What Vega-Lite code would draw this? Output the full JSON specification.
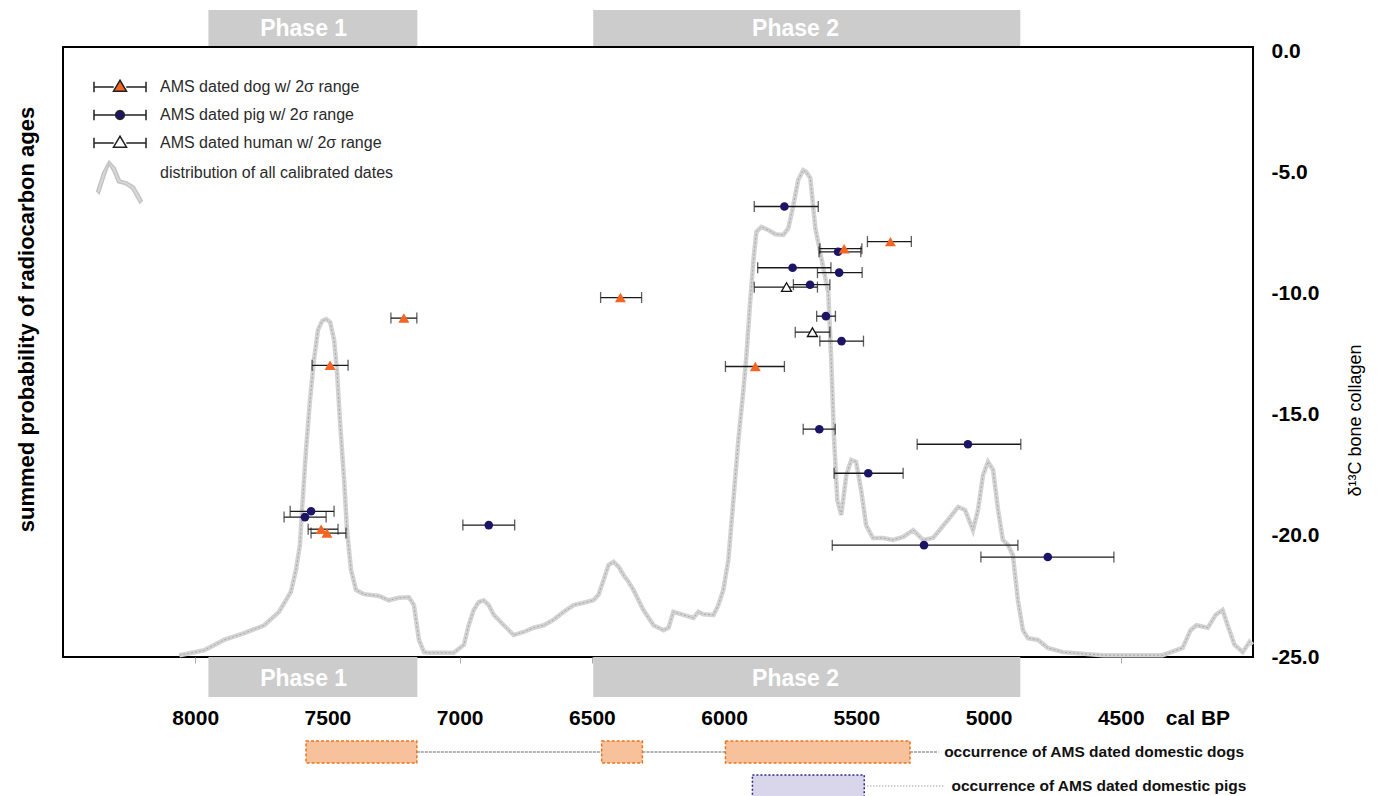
{
  "$schema": "https://vega.github.io/schema/vega-lite/v6.json",
  "padding": {"left": 13, "top": 10, "right": 5, "bottom": 0},
  "background": "white",
  "spacing": 0,
  "bounds": "flush",
  "config": {"font": "Liberation Sans", "view": {"stroke": null}},
  "datasets": {
    "curve": [
      {"year":8060,"prob":0.3},{"year":7966,"prob":1.1},{"year":7891,"prob":2.8},{"year":7815,"prob":3.9},{"year":7739,"prob":5.2},{"year":7683,"prob":7.4},{"year":7638,"prob":10.7},{"year":7619,"prob":14.3},{"year":7604,"prob":18.4},{"year":7596,"prob":24.1},{"year":7581,"prob":33.9},{"year":7566,"prob":42.1},{"year":7551,"prob":48.7},{"year":7536,"prob":53.6},{"year":7520,"prob":55.1},{"year":7505,"prob":55.4},{"year":7490,"prob":54.9},{"year":7475,"prob":52.0},{"year":7464,"prob":47.0},{"year":7453,"prob":38.9},{"year":7437,"prob":29.0},{"year":7426,"prob":20.8},{"year":7411,"prob":14.3},{"year":7392,"prob":11.0},{"year":7362,"prob":10.3},{"year":7305,"prob":10.0},{"year":7268,"prob":9.3},{"year":7230,"prob":9.7},{"year":7192,"prob":9.8},{"year":7173,"prob":8.5},{"year":7154,"prob":2.8},{"year":7135,"prob":0.8},{"year":7117,"prob":0.7},{"year":7022,"prob":0.7},{"year":6984,"prob":2.0},{"year":6966,"prob":5.2},{"year":6947,"prob":7.7},{"year":6928,"prob":9.0},{"year":6909,"prob":9.3},{"year":6890,"prob":8.5},{"year":6871,"prob":6.9},{"year":6833,"prob":5.2},{"year":6796,"prob":3.6},{"year":6758,"prob":4.1},{"year":6720,"prob":4.8},{"year":6682,"prob":5.2},{"year":6645,"prob":6.1},{"year":6607,"prob":7.4},{"year":6569,"prob":8.5},{"year":6531,"prob":8.9},{"year":6494,"prob":9.3},{"year":6475,"prob":10.2},{"year":6456,"prob":12.6},{"year":6437,"prob":15.1},{"year":6418,"prob":15.6},{"year":6399,"prob":14.8},{"year":6380,"prob":13.4},{"year":6361,"prob":12.3},{"year":6343,"prob":11.0},{"year":6305,"prob":7.7},{"year":6267,"prob":5.2},{"year":6229,"prob":4.4},{"year":6210,"prob":4.8},{"year":6192,"prob":7.4},{"year":6154,"prob":6.9},{"year":6116,"prob":6.4},{"year":6097,"prob":7.4},{"year":6078,"prob":7.0},{"year":6040,"prob":6.9},{"year":6022,"prob":8.5},{"year":6003,"prob":11.0},{"year":5984,"prob":15.9},{"year":5965,"prob":25.7},{"year":5946,"prob":35.6},{"year":5927,"prob":43.8},{"year":5916,"prob":49.2},{"year":5901,"prob":58.5},{"year":5889,"prob":65.1},{"year":5878,"prob":69.7},{"year":5859,"prob":70.5},{"year":5833,"prob":70.0},{"year":5806,"prob":69.3},{"year":5776,"prob":69.2},{"year":5757,"prob":70.3},{"year":5738,"prob":74.1},{"year":5720,"prob":78.2},{"year":5701,"prob":79.8},{"year":5689,"prob":79.5},{"year":5674,"prob":78.5},{"year":5655,"prob":70.3},{"year":5636,"prob":66.2},{"year":5606,"prob":59.7},{"year":5595,"prob":48.7},{"year":5584,"prob":35.6},{"year":5572,"prob":25.7},{"year":5557,"prob":23.3},{"year":5538,"prob":29.8},{"year":5519,"prob":32.3},{"year":5501,"prob":32.0},{"year":5482,"prob":27.4},{"year":5463,"prob":21.6},{"year":5437,"prob":19.5},{"year":5399,"prob":19.5},{"year":5361,"prob":19.2},{"year":5323,"prob":19.7},{"year":5285,"prob":20.8},{"year":5248,"prob":19.2},{"year":5210,"prob":19.5},{"year":5153,"prob":22.5},{"year":5115,"prob":24.6},{"year":5089,"prob":24.1},{"year":5059,"prob":20.8},{"year":5040,"prob":24.1},{"year":5021,"prob":29.8},{"year":5002,"prob":32.0},{"year":4983,"prob":30.7},{"year":4964,"prob":24.1},{"year":4946,"prob":19.2},{"year":4927,"prob":18.4},{"year":4908,"prob":16.7},{"year":4889,"prob":9.3},{"year":4870,"prob":4.4},{"year":4851,"prob":3.1},{"year":4813,"prob":2.8},{"year":4776,"prob":1.5},{"year":4719,"prob":0.8},{"year":4568,"prob":0.3},{"year":4342,"prob":0.3},{"year":4266,"prob":1.5},{"year":4236,"prob":4.4},{"year":4214,"prob":5.2},{"year":4171,"prob":4.8},{"year":4141,"prob":6.9},{"year":4115,"prob":7.7},{"year":4096,"prob":5.2},{"year":4070,"prob":2.0},{"year":4039,"prob":0.8},{"year":4013,"prob":2.5},{"year":4002,"prob":2.0}
    ],
    "points": [
      {"taxon":"dog","year":7211,"lo":7260,"hi":7162,"d13C":-11.0},
      {"taxon":"dog","year":7490,"lo":7558,"hi":7422,"d13C":-12.95},
      {"taxon":"dog","year":7524,"lo":7573,"hi":7460,"d13C":-19.72},
      {"taxon":"dog","year":7502,"lo":7562,"hi":7430,"d13C":-19.88},
      {"taxon":"dog","year":6392,"lo":6467,"hi":6312,"d13C":-10.15},
      {"taxon":"dog","year":5882,"lo":5995,"hi":5772,"d13C":-13.0},
      {"taxon":"dog","year":5371,"lo":5458,"hi":5292,"d13C":-7.84},
      {"taxon":"dog","year":5546,"lo":5638,"hi":5479,"d13C":-8.13},
      {"taxon":"pig","year":7562,"lo":7641,"hi":7475,"d13C":-18.98},
      {"taxon":"pig","year":7585,"lo":7664,"hi":7505,"d13C":-19.22},
      {"taxon":"pig","year":6890,"lo":6988,"hi":6792,"d13C":-19.55},
      {"taxon":"pig","year":5772,"lo":5886,"hi":5644,"d13C":-6.39},
      {"taxon":"pig","year":5569,"lo":5641,"hi":5483,"d13C":-8.26},
      {"taxon":"pig","year":5741,"lo":5873,"hi":5596,"d13C":-8.92},
      {"taxon":"pig","year":5565,"lo":5647,"hi":5478,"d13C":-9.12},
      {"taxon":"pig","year":5675,"lo":5738,"hi":5600,"d13C":-9.62},
      {"taxon":"pig","year":5615,"lo":5650,"hi":5579,"d13C":-10.92},
      {"taxon":"pig","year":5556,"lo":5638,"hi":5473,"d13C":-11.95},
      {"taxon":"pig","year":5640,"lo":5701,"hi":5580,"d13C":-15.59},
      {"taxon":"pig","year":5078,"lo":5270,"hi":4878,"d13C":-16.21},
      {"taxon":"pig","year":5455,"lo":5584,"hi":5323,"d13C":-17.41},
      {"taxon":"pig","year":5244,"lo":5591,"hi":4889,"d13C":-20.38},
      {"taxon":"pig","year":4776,"lo":5029,"hi":4526,"d13C":-20.87},
      {"taxon":"human","year":5764,"lo":5886,"hi":5647,"d13C":-9.72},
      {"taxon":"human","year":5666,"lo":5731,"hi":5600,"d13C":-11.58}
    ],
    "phases": [
      {"phase":"Phase 1","start":7950,"end":7160,"mid":7590},
      {"phase":"Phase 2","start":6495,"end":4880,"mid":5730}
    ],
    "occ": [
      {"row":"dogs","start":7581,"end":7162},
      {"row":"dogs","start":6463,"end":6309},
      {"row":"dogs","start":5995,"end":5297},
      {"row":"pigs","start":5893,"end":5470}
    ],
    "links": [
      {"row":"dogs","from":7162,"to":6463},
      {"row":"dogs","from":6309,"to":5995},
      {"row":"dogs","from":5297,"to":5190},
      {"row":"pigs","from":5470,"to":5170}
    ],
    "occlabels": [
      {"row":"dogs","year":5168,"label":"occurrence of AMS dated domestic dogs"},
      {"row":"pigs","year":5140,"label":"occurrence of AMS dated domestic pigs"}
    ]
  },
  "vconcat": [
    {
      "width": 1190, "height": 37,
      "data": {"name": "phases"},
      "layer": [
        {"mark": {"type": "rect", "color": "#cccccc"},
         "encoding": {"x": {"field": "start", "type": "quantitative", "scale": {"domain": [8500, 4000], "nice": false, "zero": false}, "axis": null}, "x2": {"field": "end"}}},
        {"mark": {"type": "text", "color": "#ffffff", "font": "Liberation Sans", "fontSize": 23, "fontWeight": "bold", "baseline": "middle", "align": "center"},
         "encoding": {"x": {"field": "mid", "type": "quantitative", "scale": {"domain": [8500, 4000], "nice": false, "zero": false}, "axis": null}, "text": {"field": "phase"}}}
      ]
    },
    {
      "width": 1190, "height": 610,
      "view": {"stroke": "#000000", "strokeWidth": 2},
      "layer": [
        {"data": {"name": "curve"},
         "layer": [
           {"mark": {"type": "line", "stroke": "#d3d3d3", "strokeWidth": 4.5},
            "encoding": {
              "x": {"field": "year", "type": "quantitative", "scale": {"domain": [8500, 4000], "nice": false, "zero": false},
                    "axis": {"orient": "bottom", "values": [8000,7500,7000,6500,6000,5500,5000,4500], "labels": false, "ticks": true, "tickSize": 6, "tickColor": "#aaaaaa", "domain": false, "grid": false, "title": null}},
              "y": {"field": "prob", "type": "quantitative", "scale": {"domain": [0, 100], "nice": false, "zero": true},
                    "axis": {"orient": "left", "labels": false, "ticks": false, "domain": false, "grid": false, "title": "summed probability of radiocarbon ages", "titleFont": "Liberation Sans", "titleFontSize": 22, "titleFontWeight": "bold", "titleColor": "#000000", "titleAngle": 270, "titleX": -37, "titleY": 272, "titleAlign": "center", "titleBaseline": "middle"}}
            }},
           {"mark": {"type": "line", "stroke": "#a9a9a9", "strokeWidth": 1, "strokeDash": [2, 2]},
            "encoding": {
              "x": {"field": "year", "type": "quantitative", "scale": {"domain": [8500, 4000], "nice": false, "zero": false},
                    "axis": {"orient": "bottom", "values": [8000,7500,7000,6500,6000,5500,5000,4500], "labels": false, "ticks": true, "tickSize": 6, "tickColor": "#aaaaaa", "domain": false, "grid": false, "title": null}},
              "y": {"field": "prob", "type": "quantitative", "scale": {"domain": [0, 100], "nice": false, "zero": true},
                    "axis": {"orient": "left", "labels": false, "ticks": false, "domain": false, "grid": false, "title": "summed probability of radiocarbon ages", "titleFont": "Liberation Sans", "titleFontSize": 22, "titleFontWeight": "bold", "titleColor": "#000000", "titleAngle": 270, "titleX": -37, "titleY": 272, "titleAlign": "center", "titleBaseline": "middle"}}
            }}
         ]},
        {"data": {"name": "points"},
         "layer": [
           {"mark": {"type": "rule", "color": "#1a1a1a", "strokeWidth": 1.3},
            "encoding": {
              "x": {"field": "lo", "type": "quantitative", "scale": {"domain": [8500, 4000], "nice": false, "zero": false},
                    "axis": {"orient": "bottom", "values": [8000,7500,7000,6500,6000,5500,5000,4500], "labels": false, "ticks": true, "tickSize": 6, "tickColor": "#aaaaaa", "domain": false, "grid": false, "title": null}},
              "x2": {"field": "hi"},
              "y": {"field": "d13C", "type": "quantitative", "scale": {"domain": [-25, 0.2], "nice": false, "zero": false},
                    "axis": {"orient": "right", "values": [0,-5,-10,-15,-20,-25], "labelExpr": "replace(format(datum.value, '.1f'), '\u2212', '-')", "labelFont": "Liberation Sans", "labelFontSize": 21, "labelFontWeight": "bold", "labelColor": "#000000", "labelPadding": 18, "labelFlush": false, "labelOverlap": false, "labelBound": false, "ticks": false, "domain": false, "grid": false, "title": "δ¹³C bone collagen", "titleFont": "Liberation Sans", "titleFontSize": 18, "titleFontWeight": "normal", "titleColor": "#000000", "titleAngle": 270, "titleX": 102, "titleY": 373, "titleAlign": "center", "titleBaseline": "middle"}}
            }},
           {"mark": {"type": "tick", "orient": "vertical", "color": "#1a1a1a", "size": 11, "thickness": 1.3},
            "encoding": {
              "x": {"field": "lo", "type": "quantitative", "scale": {"domain": [8500, 4000], "nice": false, "zero": false},
                    "axis": {"orient": "bottom", "values": [8000,7500,7000,6500,6000,5500,5000,4500], "labels": false, "ticks": true, "tickSize": 6, "tickColor": "#aaaaaa", "domain": false, "grid": false, "title": null}},
              "y": {"field": "d13C", "type": "quantitative", "scale": {"domain": [-25, 0.2], "nice": false, "zero": false},
                    "axis": {"orient": "right", "values": [0,-5,-10,-15,-20,-25], "labelExpr": "replace(format(datum.value, '.1f'), '\u2212', '-')", "labelFont": "Liberation Sans", "labelFontSize": 21, "labelFontWeight": "bold", "labelColor": "#000000", "labelPadding": 18, "labelFlush": false, "labelOverlap": false, "labelBound": false, "ticks": false, "domain": false, "grid": false, "title": "δ¹³C bone collagen", "titleFont": "Liberation Sans", "titleFontSize": 18, "titleFontWeight": "normal", "titleColor": "#000000", "titleAngle": 270, "titleX": 102, "titleY": 373, "titleAlign": "center", "titleBaseline": "middle"}}
            }},
           {"mark": {"type": "tick", "orient": "vertical", "color": "#1a1a1a", "size": 11, "thickness": 1.3},
            "encoding": {
              "x": {"field": "hi", "type": "quantitative", "scale": {"domain": [8500, 4000], "nice": false, "zero": false},
                    "axis": {"orient": "bottom", "values": [8000,7500,7000,6500,6000,5500,5000,4500], "labels": false, "ticks": true, "tickSize": 6, "tickColor": "#aaaaaa", "domain": false, "grid": false, "title": null}},
              "y": {"field": "d13C", "type": "quantitative", "scale": {"domain": [-25, 0.2], "nice": false, "zero": false},
                    "axis": {"orient": "right", "values": [0,-5,-10,-15,-20,-25], "labelExpr": "replace(format(datum.value, '.1f'), '\u2212', '-')", "labelFont": "Liberation Sans", "labelFontSize": 21, "labelFontWeight": "bold", "labelColor": "#000000", "labelPadding": 18, "labelFlush": false, "labelOverlap": false, "labelBound": false, "ticks": false, "domain": false, "grid": false, "title": "δ¹³C bone collagen", "titleFont": "Liberation Sans", "titleFontSize": 18, "titleFontWeight": "normal", "titleColor": "#000000", "titleAngle": 270, "titleX": 102, "titleY": 373, "titleAlign": "center", "titleBaseline": "middle"}}
            }},
           {"transform": [{"filter": {"field": "taxon", "equal": "pig"}}],
            "mark": {"type": "point", "shape": "circle", "filled": true, "color": "#1c1566", "size": 75, "opacity": 1},
            "encoding": {
              "x": {"field": "year", "type": "quantitative", "scale": {"domain": [8500, 4000], "nice": false, "zero": false},
                    "axis": {"orient": "bottom", "values": [8000,7500,7000,6500,6000,5500,5000,4500], "labels": false, "ticks": true, "tickSize": 6, "tickColor": "#aaaaaa", "domain": false, "grid": false, "title": null}},
              "y": {"field": "d13C", "type": "quantitative", "scale": {"domain": [-25, 0.2], "nice": false, "zero": false},
                    "axis": {"orient": "right", "values": [0,-5,-10,-15,-20,-25], "labelExpr": "replace(format(datum.value, '.1f'), '\u2212', '-')", "labelFont": "Liberation Sans", "labelFontSize": 21, "labelFontWeight": "bold", "labelColor": "#000000", "labelPadding": 18, "labelFlush": false, "labelOverlap": false, "labelBound": false, "ticks": false, "domain": false, "grid": false, "title": "δ¹³C bone collagen", "titleFont": "Liberation Sans", "titleFontSize": 18, "titleFontWeight": "normal", "titleColor": "#000000", "titleAngle": 270, "titleX": 102, "titleY": 373, "titleAlign": "center", "titleBaseline": "middle"}}
            }},
           {"transform": [{"filter": {"field": "taxon", "equal": "human"}}],
            "mark": {"type": "point", "shape": "triangle-up", "filled": false, "fill": "#ffffff", "stroke": "#111111", "strokeWidth": 1.3, "size": 100, "opacity": 1},
            "encoding": {
              "x": {"field": "year", "type": "quantitative", "scale": {"domain": [8500, 4000], "nice": false, "zero": false},
                    "axis": {"orient": "bottom", "values": [8000,7500,7000,6500,6000,5500,5000,4500], "labels": false, "ticks": true, "tickSize": 6, "tickColor": "#aaaaaa", "domain": false, "grid": false, "title": null}},
              "y": {"field": "d13C", "type": "quantitative", "scale": {"domain": [-25, 0.2], "nice": false, "zero": false},
                    "axis": {"orient": "right", "values": [0,-5,-10,-15,-20,-25], "labelExpr": "replace(format(datum.value, '.1f'), '\u2212', '-')", "labelFont": "Liberation Sans", "labelFontSize": 21, "labelFontWeight": "bold", "labelColor": "#000000", "labelPadding": 18, "labelFlush": false, "labelOverlap": false, "labelBound": false, "ticks": false, "domain": false, "grid": false, "title": "δ¹³C bone collagen", "titleFont": "Liberation Sans", "titleFontSize": 18, "titleFontWeight": "normal", "titleColor": "#000000", "titleAngle": 270, "titleX": 102, "titleY": 373, "titleAlign": "center", "titleBaseline": "middle"}}
            }},
           {"transform": [{"filter": {"field": "taxon", "equal": "dog"}}],
            "mark": {"type": "point", "shape": "triangle-up", "filled": true, "color": "#f26522", "size": 120, "opacity": 1},
            "encoding": {
              "x": {"field": "year", "type": "quantitative", "scale": {"domain": [8500, 4000], "nice": false, "zero": false},
                    "axis": {"orient": "bottom", "values": [8000,7500,7000,6500,6000,5500,5000,4500], "labels": false, "ticks": true, "tickSize": 6, "tickColor": "#aaaaaa", "domain": false, "grid": false, "title": null}},
              "y": {"field": "d13C", "type": "quantitative", "scale": {"domain": [-25, 0.2], "nice": false, "zero": false},
                    "axis": {"orient": "right", "values": [0,-5,-10,-15,-20,-25], "labelExpr": "replace(format(datum.value, '.1f'), '\u2212', '-')", "labelFont": "Liberation Sans", "labelFontSize": 21, "labelFontWeight": "bold", "labelColor": "#000000", "labelPadding": 18, "labelFlush": false, "labelOverlap": false, "labelBound": false, "ticks": false, "domain": false, "grid": false, "title": "δ¹³C bone collagen", "titleFont": "Liberation Sans", "titleFontSize": 18, "titleFontWeight": "normal", "titleColor": "#000000", "titleAngle": 270, "titleX": 102, "titleY": 373, "titleAlign": "center", "titleBaseline": "middle"}}
            }},
           {"data": {"values": []},
            "mark": {"type": "point", "filled": true, "opacity": 1},
            "encoding": {
              "shape": {"field": "entry", "type": "nominal",
                        "scale": {"domain": ["AMS dated dog w/ 2σ range", "AMS dated pig w/ 2σ range", "AMS dated human w/ 2σ range", "distribution of all calibrated dates"],
                                  "range": ["M-5.2,0H-1.25M1.25,0H5.2M-5.2,-1.04V1.04M5.2,-1.04V1.04M0,-1.35L1.3,0.83L-1.3,0.83Z",
                                            "M0,-2M-5.2,0H-0.88M0.88,0H5.2M-5.2,-1.04V1.04M5.2,-1.04V1.04M0.88,0L0.77,0.44L0.44,0.77L0,0.88L-0.44,0.77L-0.77,0.44L-0.88,0L-0.77,-0.44L-0.44,-0.77L0,-0.88L0.44,-0.77L0.77,-0.44Z",
                                            "M0,-2M-5.2,0H-1.25M1.25,0H5.2M-5.2,-1.04V1.04M5.2,-1.04V1.04M0,-1.35L1.3,0.83L-1.3,0.83Z",
                                            "M-4.65,3.64L-3.45,-0.08L-2.2,-2.4L-0.95,-1.0L0.05,1.42L1.35,1.78L2.85,2.7L4.45,5.5L3.95,6.0L2.35,3.2L1.05,2.28L-0.45,1.92L-1.45,-0.5L-2.2,-1.7L-2.95,0.42L-4.15,4.14Z"]},
                        "legend": {"title": null, "orient": "none", "legendX": 49, "legendY": 69, "symbolSize": 100, "labelFont": "Liberation Sans", "labelFontSize": 16, "labelColor": "#2a2a2a", "labelOffset": 32, "labelLimit": 500, "rowPadding": 6, "padding": 0, "symbolOffset": 0}},
              "fill": {"field": "entry", "type": "nominal",
                       "scale": {"domain": ["AMS dated dog w/ 2σ range", "AMS dated pig w/ 2σ range", "AMS dated human w/ 2σ range", "distribution of all calibrated dates"],
                                 "range": ["#f26522", "#1c1566", "#ffffff", "#d9d9d9"]},
                       "legend": {"title": null, "orient": "none", "legendX": 49, "legendY": 69, "symbolSize": 100, "labelFont": "Liberation Sans", "labelFontSize": 16, "labelColor": "#2a2a2a", "labelOffset": 32, "labelLimit": 500, "rowPadding": 6, "padding": 0, "symbolOffset": 0}},
              "stroke": {"field": "entry", "type": "nominal",
                         "scale": {"domain": ["AMS dated dog w/ 2σ range", "AMS dated pig w/ 2σ range", "AMS dated human w/ 2σ range", "distribution of all calibrated dates"],
                                   "range": ["#222222", "#222222", "#222222", "#c4c4c4"]},
                         "legend": {"title": null, "orient": "none", "legendX": 49, "legendY": 69, "symbolSize": 100, "labelFont": "Liberation Sans", "labelFontSize": 16, "labelColor": "#2a2a2a", "labelOffset": 32, "labelLimit": 500, "rowPadding": 6, "padding": 0, "symbolOffset": 0}}
            }}
         ]}
      ],
      "resolve": {"scale": {"y": "independent"}}
    },
    {
      "width": 1190, "height": 40,
      "data": {"name": "phases"},
      "layer": [
        {"mark": {"type": "rect", "color": "#cccccc"},
         "encoding": {"x": {"field": "start", "type": "quantitative", "scale": {"domain": [8500, 4000], "nice": false, "zero": false},
                            "axis": {"orient": "bottom", "values": [8000,7500,7000,6500,6000,5500,5000,4500,4210], "labelExpr": "datum.value == 4210 ? 'cal BP' : format(datum.value, 'd')", "labelFont": "Liberation Sans", "labelFontSize": 21, "labelFontWeight": "bold", "labelColor": "#000000", "labelPadding": 10, "labelFlush": false, "labelOverlap": false, "labelBound": false, "ticks": false, "domain": false, "grid": false, "title": null}},
                      "x2": {"field": "end"}}},
        {"mark": {"type": "text", "color": "#ffffff", "font": "Liberation Sans", "fontSize": 23, "fontWeight": "bold", "baseline": "middle", "align": "center", "dy": 2},
         "encoding": {"x": {"field": "mid", "type": "quantitative", "scale": {"domain": [8500, 4000], "nice": false, "zero": false},
                            "axis": {"orient": "bottom", "values": [8000,7500,7000,6500,6000,5500,5000,4500,4210], "labelExpr": "datum.value == 4210 ? 'cal BP' : format(datum.value, 'd')", "labelFont": "Liberation Sans", "labelFontSize": 21, "labelFontWeight": "bold", "labelColor": "#000000", "labelPadding": 10, "labelFlush": false, "labelOverlap": false, "labelBound": false, "ticks": false, "domain": false, "grid": false, "title": null}},
                      "text": {"field": "phase"}}}
      ]
    },
    {
      "width": 1190, "height": 100,
      "layer": [
        {"data": {"name": "links"},
         "transform": [{"filter": {"field": "row", "equal": "dogs"}}],
         "mark": {"type": "rule", "color": "#9a9a9a", "strokeWidth": 1.5, "strokeDash": [3, 1]},
         "encoding": {"x": {"field": "from", "type": "quantitative", "scale": {"domain": [8500, 4000], "nice": false, "zero": false}, "axis": null},
                      "x2": {"field": "to"},
                      "y": {"field": "row", "type": "nominal", "scale": {"domain": ["dogs", "pigs"], "paddingInner": 0.353, "paddingOuter": 0.647, "align": 1}, "axis": null}}},
        {"data": {"name": "links"},
         "transform": [{"filter": {"field": "row", "equal": "pigs"}}],
         "mark": {"type": "rule", "color": "#a5a5a5", "strokeWidth": 1.3, "strokeDash": [1, 2]},
         "encoding": {"x": {"field": "from", "type": "quantitative", "scale": {"domain": [8500, 4000], "nice": false, "zero": false}, "axis": null},
                      "x2": {"field": "to"},
                      "y": {"field": "row", "type": "nominal", "scale": {"domain": ["dogs", "pigs"], "paddingInner": 0.353, "paddingOuter": 0.647, "align": 1}, "axis": null}}},
        {"data": {"name": "occ"},
         "transform": [{"filter": {"field": "row", "equal": "dogs"}}],
         "mark": {"type": "rect", "fill": "#f6c19b", "stroke": "#e8741f", "strokeWidth": 1.5, "strokeDash": [3, 2]},
         "encoding": {"x": {"field": "start", "type": "quantitative", "scale": {"domain": [8500, 4000], "nice": false, "zero": false}, "axis": null},
                      "x2": {"field": "end"},
                      "y": {"field": "row", "type": "nominal", "scale": {"domain": ["dogs", "pigs"], "paddingInner": 0.353, "paddingOuter": 0.647, "align": 1}, "axis": null}}},
        {"data": {"name": "occ"},
         "transform": [{"filter": {"field": "row", "equal": "pigs"}}],
         "mark": {"type": "rect", "fill": "#d9d6eb", "stroke": "#2e2a87", "strokeWidth": 1.5, "strokeDash": [2, 2]},
         "encoding": {"x": {"field": "start", "type": "quantitative", "scale": {"domain": [8500, 4000], "nice": false, "zero": false}, "axis": null},
                      "x2": {"field": "end"},
                      "y": {"field": "row", "type": "nominal", "scale": {"domain": ["dogs", "pigs"], "paddingInner": 0.353, "paddingOuter": 0.647, "align": 1}, "axis": null}}},
        {"data": {"name": "occlabels"},
         "mark": {"type": "text", "align": "left", "baseline": "middle", "font": "Liberation Sans", "fontSize": 15.5, "fontWeight": "bold", "color": "#111111"},
         "encoding": {"x": {"field": "year", "type": "quantitative", "scale": {"domain": [8500, 4000], "nice": false, "zero": false}, "axis": null},
                      "y": {"field": "row", "type": "nominal", "scale": {"domain": ["dogs", "pigs"], "paddingInner": 0.353, "paddingOuter": 0.647, "align": 1}, "axis": null},
                      "text": {"field": "label"}}}
      ]
    }
  ]
}
